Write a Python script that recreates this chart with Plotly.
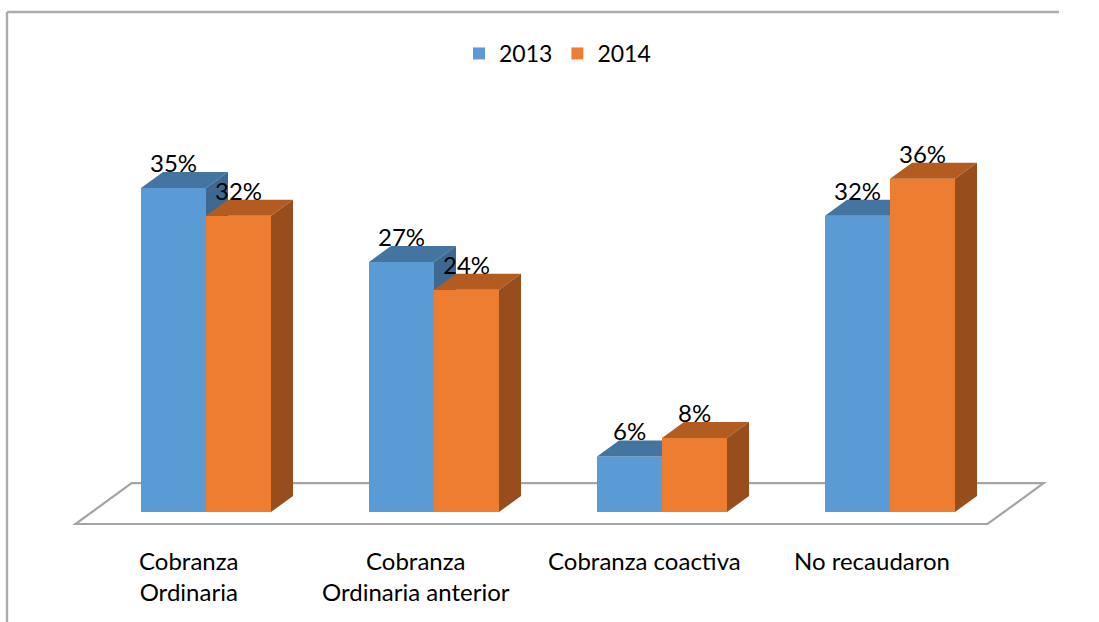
import plotly.graph_objects as go

# ---- data -------------------------------------------------------------
categories = ["Cobranza<br>Ordinaria", "Cobranza<br>Ordinaria anterior",
              "Cobranza coactiva", "No recaudaron"]
series_names = ["2013", "2014"]
values_2013 = [35, 27, 6, 32]
values_2014 = [32, 24, 8, 36]

# ---- layout / styling constants --------------------------------------
W, H = 1099, 622
FONT = "Lato"
TEXT_COLOR = "#000000"

PX_PER_X = 228.0        # pixels per category step
PX_PER_Y = 9.26         # pixels per percentage point
X_ZERO_PX = 206.0       # pixel column of the first category centre
Y_ZERO_PX = 512.0       # pixel row of the 0 % baseline

BAR_W = 65.0 / PX_PER_X          # width of each bar in category units
DX = 22.0 / PX_PER_X             # 3-D depth offset, horizontal
DY = 16.0 / PX_PER_Y             # 3-D depth offset, vertical

FLOOR_FRONT = 0.75               # floor extent in front of bars (depth units)
FLOOR_BACK = 1.8                 # floor extent behind bars (depth units)

FRONT = ["#5B9BD5", "#ED7D31"]
TOP = ["#4474A0", "#B35C22"]
SIDE = ["#3C6891", "#974E1C"]
BORDER = "#ABABAB"

x_range = [-X_ZERO_PX / PX_PER_X, (W - X_ZERO_PX) / PX_PER_X]
y_range = [-(H - Y_ZERO_PX) / PX_PER_Y, Y_ZERO_PX / PX_PER_Y]


def faces(vals, offset):
    """Polygons for the top and right faces of each bar."""
    tx, ty, sx, sy = [], [], [], []
    for i, v in enumerate(vals):
        xl = i + offset
        xr = xl + BAR_W
        tx += [xl, xl + DX, xr + DX, xr, xl, None]
        ty += [v, v + DY, v + DY, v, v, None]
        sx += [xr, xr, xr + DX, xr + DX, xr, None]
        sy += [0, v, v + DY, DY, 0, None]
    return tx, ty, sx, sy


fig = go.Figure()

# chart border: left edge and top edge as two separate strokes
bx = (7.0 - X_ZERO_PX) / PX_PER_X
by = (Y_ZERO_PX - 12.0) / PX_PER_Y
bx_end = (W - 40.0 - X_ZERO_PX) / PX_PER_X
fig.add_trace(go.Scatter(
    x=[bx, bx, None, bx, bx_end], y=[y_range[0], by, None, by, by],
    mode="lines", line=dict(color=BORDER, width=2.4),
    showlegend=False, hoverinfo="skip",
))

idx = list(range(len(categories)))
all_vals = [values_2013, values_2014]
axes = [("x", "y"), ("x2", "y2")]
offsets = [-BAR_W, 0.0]

for s, (name, vals) in enumerate(zip(series_names, all_vals)):
    xa, ya = axes[s]
    fig.add_trace(go.Bar(
        x=idx, y=vals, name=name, width=BAR_W, offset=offsets[s],
        marker=dict(color=FRONT[s], line=dict(width=0)),
        xaxis=xa, yaxis=ya, hoverinfo="skip",
    ))
    tx, ty, sx, sy = faces(vals, offsets[s])
    fig.add_trace(go.Scatter(
        x=tx, y=ty, mode="lines", fill="toself", fillcolor=TOP[s],
        line=dict(width=0, color=TOP[s]), showlegend=False,
        xaxis=xa, yaxis=ya, hoverinfo="skip",
    ))
    fig.add_trace(go.Scatter(
        x=sx, y=sy, mode="lines", fill="toself", fillcolor=SIDE[s],
        line=dict(width=0, color=SIDE[s]), showlegend=False,
        xaxis=xa, yaxis=ya, hoverinfo="skip",
    ))

# floor of the 3-D plot area
x_lo, x_hi = -0.5, len(categories) - 0.5
floor = [
    (x_lo - FLOOR_FRONT * DX, -FLOOR_FRONT * DY),
    (x_hi - FLOOR_FRONT * DX, -FLOOR_FRONT * DY),
    (x_hi + FLOOR_BACK * DX, FLOOR_BACK * DY),
    (x_lo + FLOOR_BACK * DX, FLOOR_BACK * DY),
]
floor_path = "M " + " L ".join(f"{x},{y}" for x, y in floor) + " Z"
shapes = [
    dict(type="path", path=floor_path, xref="x", yref="y",
         line=dict(color="#A5A5A5", width=2.2), fillcolor="white",
         layer="below"),
]

annotations = []
# value labels above each bar
for s, vals in enumerate(all_vals):
    xa, ya = axes[s]
    for i, v in enumerate(vals):
        annotations.append(dict(
            x=i + offsets[s] + BAR_W / 2, y=v, xref=xa, yref=ya,
            text=f"{v}%", showarrow=False, yanchor="bottom", yshift=9,
            font=dict(family=FONT, size=24, color=TEXT_COLOR),
        ))
# category labels under the floor
label_shift = -18.0 / PX_PER_X
for i, c in enumerate(categories):
    annotations.append(dict(
        x=i + label_shift, y=1 - 544.0 / H, xref="x", yref="paper",
        text=c, showarrow=False, yanchor="top", align="center",
        font=dict(family=FONT, size=24, color=TEXT_COLOR),
    ))

axis_common = dict(visible=False, fixedrange=True)
fig.update_layout(
    width=W, height=H,
    margin=dict(l=0, r=0, t=0, b=0),
    paper_bgcolor="white", plot_bgcolor="rgba(0,0,0,0)",
    barmode="overlay",
    showlegend=True,
    legend=dict(orientation="h", x=0.5 + 8.0 / W, xanchor="center",
                y=1 - 32.0 / H, yanchor="top",
                font=dict(family=FONT, size=23, color=TEXT_COLOR),
                bgcolor="rgba(0,0,0,0)"),
    xaxis=dict(range=x_range, domain=[0, 1], **axis_common),
    yaxis=dict(range=y_range, domain=[0, 1], **axis_common),
    xaxis2=dict(range=x_range, overlaying="x", matches="x", **axis_common),
    yaxis2=dict(range=y_range, overlaying="y", matches="y", **axis_common),
    shapes=shapes,
    annotations=annotations,
)

fig.write_html("out.html")
